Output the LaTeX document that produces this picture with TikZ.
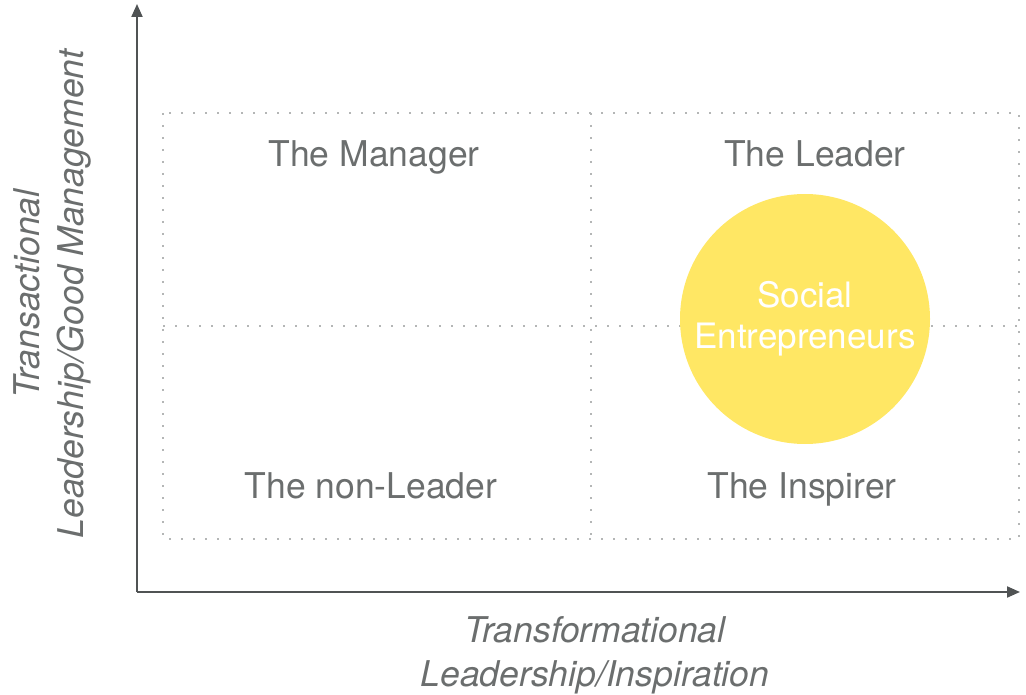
\documentclass[tikz,border=0pt]{standalone}
\usepackage{fontspec}
\setmainfont{TeX Gyre Heros}
\usetikzlibrary{arrows.meta}
\definecolor{labelgray}{HTML}{6B6E6E}
\definecolor{axisgray}{HTML}{505354}
\definecolor{gridgray}{HTML}{B4B6B6}
\definecolor{sunyellow}{HTML}{FFE764}
\tikzset{
  quadlabel/.style = {text = labelgray, font = \fontsize{35.5}{40}\selectfont, inner sep = 0, anchor = base},
  axislabel/.style = {text = labelgray, font = \fontsize{35.5}{44}\selectfont\itshape, align = center, inner sep = 0},
  gridline/.style  = {gridgray, line width = 1.8, dash pattern = on 1.8pt off 10.2pt},
  axisline/.style  = {axisgray, line width = 2, -{Triangle[length = 13pt, width = 11pt]}}
}
\begin{document}
\begin{tikzpicture}[x = 1pt, y = -1pt]
  \useasboundingbox (0,0) rectangle (1026,695);
  % dotted quadrants
  \draw[gridline] (163,113) rectangle (1019,539);
  \draw[gridline] (163,326) -- (1019,326);
  \draw[gridline] (591,113) -- (591,539);
  % highlight
  \node[circle, fill = sunyellow, minimum size = 250, inner sep = 0] (social) at (805,319) {};
  \node[align = center, text = white, font = \fontsize{35}{41}\selectfont, inner sep = 0]
    (socialtext) at (805,319) {Social\\Entrepreneurs};
  % axes
  \coordinate (origin) at (137,592);
  \coordinate (ytip) at (137,4);
  \coordinate (xtip) at (1020,592);
  \draw[axisline] (origin) -- (ytip);
  \draw[axisline] (origin) -- (xtip);
  % quadrant names
  \node[quadlabel] (manager) at (374,167) {The Manager};
  \node[quadlabel] (leader) at (815,167) {The Leader};
  \node[quadlabel] (nonleader) at (371,498) {The non-Leader};
  \node[quadlabel] (inspirer) at (802,498) {The Inspirer};
  % axis names
  \node[axislabel] (xname) at (595,655) {Transformational\\Leadership/Inspiration};
  \node[axislabel, rotate = 90] (yname) at (52,294) {Transactional\\Leadership/Good Management};
\end{tikzpicture}
\end{document}
